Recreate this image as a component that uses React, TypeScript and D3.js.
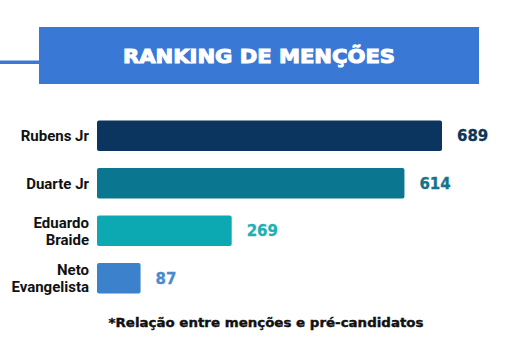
import React from "react";
import * as d3 from "d3";

const categories: string[][] = [["Rubens Jr"], ["Duarte Jr"], ["Eduardo", "Braide"], ["Neto", "Evangelista"]];
const values: number[] = [689, 614, 269, 87];
const barColors: string[] = ["#0b355f", "#0b7690", "#0ca9b2", "#3b81cc"];
const labelColors: string[] = ["#0e3658", "#17738c", "#1eb0b4", "#4a8bd0"];
const title = "RANKING DE MENÇÕES";
const footnote = "*Relação entre menções e pré-candidatos";

export default function App() {
  const W = 513, H = 355;
  const x = d3.scaleLinear().domain([0, 689]).range([97, 442]);
  const y = d3.scaleBand<number>().domain(d3.range(values.length)).range([112, 302]).paddingInner(0.36).paddingOuter(0.18);
  return (
    <svg width={W} height={H} style={{ position: "absolute", left: 0, top: 0, background: "#fff" }}>
      <rect x={0} y={0} width={W} height={H} fill="#fff" />
      <rect x={0} y={60.5} width={40} height={3.5} fill="#3a78d6" />
      <rect x={39} y={27} width={440} height={57} fill="#3a78d6" />
      <text x={259} y={63} textAnchor="middle" fill="#fff" fontFamily="DejaVu Sans" fontWeight="bold" fontSize={20}
        textLength={272} lengthAdjust="spacingAndGlyphs" stroke="#fff" strokeWidth={1.1}>{title}</text>
      {values.map((v, i) => {
        const y0 = y(i)!;
        const bh = y.bandwidth();
        const cy = y0 + bh / 2;
        const lines = categories[i];
        return (
          <g key={i}>
            <rect x={x(0)} y={y0} width={x(v) - x(0)} height={bh} rx={2} fill={barColors[i]} />
            <text x={x(v) + 15} y={cy} dy="0.36em" fill={labelColors[i]} fontFamily="DejaVu Sans" fontWeight="bold" fontSize={15}
              stroke={labelColors[i]} strokeWidth={0.3}>{v}</text>
            {lines.map((l, j) => (
              <text key={j} x={89} y={cy + (j - (lines.length - 1) / 2) * 17} dy="0.36em" textAnchor="end"
                fill="#111" fontFamily="Roboto" fontWeight="bold" fontSize={15}>{l}</text>
            ))}
          </g>
        );
      })}
      <text x={266} y={322} dy="0.36em" textAnchor="middle" fill="#111" fontFamily="DejaVu Sans" fontWeight="bold" fontSize={13}
        textLength={315} lengthAdjust="spacingAndGlyphs" stroke="#111" strokeWidth={0.4}>{footnote}</text>
    </svg>
  );
}
